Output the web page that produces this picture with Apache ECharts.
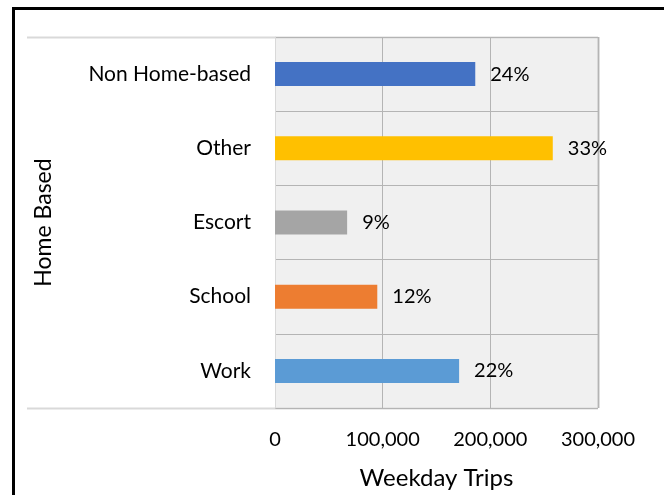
<!DOCTYPE html>
<html>
<head>
<meta charset="utf-8">
<script src="https://cdn.jsdelivr.net/npm/echarts@6/dist/echarts.min.js"></script>
<style>
  html, body { margin: 0; padding: 0; background: #fff; }
  #chart { width: 664px; height: 495px; }
</style>
</head>
<body>
<div id="chart"></div>
<script>
// trip purpose, bottom to top
const categories = ['Work', 'School', 'Escort', 'Other', 'Non Home-based'];
const trips = [171000, 95000, 67000, 258000, 186000];
const shares = ['22%', '12%', '9%', '33%', '24%'];
const barColors = ['#5b9bd5', '#ed7d31', '#a5a5a5', '#ffc000', '#4472c4'];

const FONT = 'Lato';
const G = { left: 275, top: 37, width: 323, height: 371 };

const chart = echarts.init(document.getElementById('chart'));

chart.setOption({
  backgroundColor: '#fff',
  textStyle: { fontFamily: FONT },
  grid: {
    left: G.left, top: G.top, width: G.width, height: G.height,
    show: true, backgroundColor: '#f0f0f0', borderWidth: 0
  },
  xAxis: {
    type: 'value',
    min: 0, max: 300000, interval: 100000,
    name: 'Weekday Trips',
    nameLocation: 'middle',
    nameGap: 58,
    nameTextStyle: { fontSize: 24, color: '#000', fontFamily: FONT },
    axisLine: { show: false },
    axisTick: { show: false },
    axisLabel: {
      fontSize: 20, color: '#000', margin: 22, fontFamily: FONT,
      formatter: v => v.toLocaleString('en-US')
    },
    splitLine: { show: true, lineStyle: { color: '#b4b4b4', width: 1 } }
  },
  yAxis: {
    type: 'category',
    data: categories,
    name: 'Home Based',
    nameLocation: 'middle',
    nameGap: 220,
    nameRotate: 90,
    nameTextStyle: { fontSize: 23, color: '#000', fontFamily: FONT },
    axisLine: { show: true, lineStyle: { color: '#d9d9d9', width: 1 } },
    axisTick: { show: false },
    axisLabel: { fontSize: 21, color: '#000', margin: 24, fontFamily: FONT },
    splitLine: { show: true, lineStyle: { color: '#b4b4b4', width: 1 } }
  },
  series: [{
    type: 'bar',
    barWidth: 24,
    data: trips.map((v, i) => ({ value: v, itemStyle: { color: barColors[i] } })),
    label: {
      show: true,
      position: 'right',
      distance: 15,
      fontSize: 20,
      color: '#000',
      fontFamily: FONT,
      formatter: p => shares[p.dataIndex]
    }
  }],
  graphic: [
    // outer frame
    { type: 'rect', shape: { x: 13.5, y: 8.5, width: 700, height: 600 },
      style: { fill: null, stroke: '#000', lineWidth: 3 }, silent: true },
    // top / bottom rules running out under the labels
    { type: 'line', shape: { x1: 27, y1: G.top + 0.5, x2: G.left + G.width, y2: G.top + 0.5 },
      style: { stroke: '#d9d9d9', lineWidth: 2 }, silent: true },
    { type: 'line', shape: { x1: 27, y1: G.top + G.height + 0.5, x2: G.left + G.width, y2: G.top + G.height + 0.5 },
      style: { stroke: '#d9d9d9', lineWidth: 2 }, silent: true },
    { type: 'line', shape: { x1: G.left + G.width + 0.5, y1: G.top, x2: G.left + G.width + 0.5, y2: G.top + G.height },
      style: { stroke: '#bfbfbf', lineWidth: 2 }, silent: true }
  ]
});
</script>
</body>
</html>
